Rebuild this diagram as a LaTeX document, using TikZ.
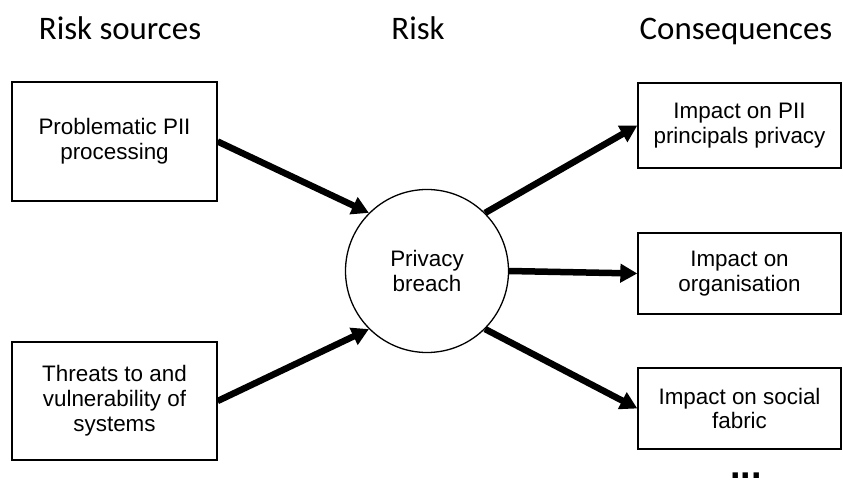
\documentclass[tikz,border=0pt]{standalone}
\usepackage{fontspec}
\setmainfont{Liberation Sans}
\newfontfamily\headfont{Carlito}
\usetikzlibrary{arrows.meta}
\tikzset{
  box/.style={draw, line width=1.3bp, align=center, inner sep=0pt,
    font=\fontsize{22.5}{25}\selectfont},
  heading/.style={anchor=base, font=\headfont\fontsize{33}{38}\selectfont},
  link/.style={-{Triangle[length=17bp,width=18bp]}, line width=6.5bp},
}
\begin{document}
\begin{tikzpicture}[x=1bp,y=-1bp]
\useasboundingbox (0,0) rectangle (843,485);
\node [heading] (hsrc) at (120,40) {Risk sources};
\node [heading] (hrisk) at (418,40) {Risk};
\node [heading] (hcons) at (736,40) {Consequences};
% risk sources
\node [box, minimum width=205bp, minimum height=119bp] (pii) at (114.5,141.5) {Problematic PII\\processing};
\node [box, minimum width=205bp, minimum height=118bp] (threat) at (114.5,401) {Threats to and\\vulnerability of\\systems};
\node [draw, circle, line width=1.3bp, minimum size=163bp, inner sep=0pt, align=center,
  font=\fontsize{22.5}{25}\selectfont] (breach) at (427,271) {Privacy\\breach};
% consequences
\node [box, minimum width=203bp, minimum height=85bp] (imppii) at (739.5,125.5) {Impact on PII\\principals privacy};
\node [box, minimum width=203bp, minimum height=81bp] (imporg) at (739.5,273.5) {Impact on\\organisation};
\node [box, minimum width=203bp, minimum height=81bp] (impsoc) at (739.5,408.5) {Impact on social\\fabric};
\node [anchor=base, inner sep=0pt, font=\bfseries\fontsize{38}{38}\selectfont] (more) at (746,478) {...};
\draw [link] (pii.east) -- (breach.135);
\draw [link] (threat.east) -- (breach.225);
\draw [link] (breach.45) -- (imppii.west);
\draw [link] (breach.east) -- (imporg.west);
\draw [link] (breach.-45) -- (impsoc.west);
\end{tikzpicture}
\end{document}
